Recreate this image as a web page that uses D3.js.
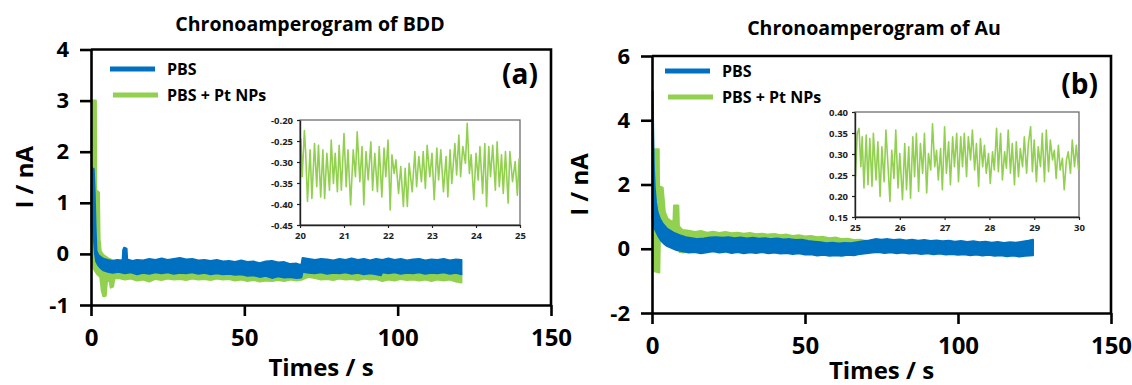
<!DOCTYPE html>
<html>
<head>
<meta charset="utf-8">
<script src="https://cdn.jsdelivr.net/npm/d3@7"></script>
<style>
  body { margin: 0; background: #fff; }
  svg { display: block; font-family: "Open Sans", sans-serif; font-weight: bold; }
</style>
</head>
<body>
<svg id="chart" width="1132" height="385"></svg>
<script>
// ---- data (time in s, current in nA) ----
const series = ['PBS', 'PBS + Pt NPs'];

// (a) BDD electrode: noisy bands given as upper / lower envelopes
const bddPbsTop = [[0.2,1.2],[0.4,1.68],[0.9,1.66],[1.2,1.2],[1.5,0.5],[1.8,0.06],[2.4,-0.02],[3.2,-0.06],[4.2,-0.1],[5.5,-0.12],[7,-0.14],[8.5,-0.12],[10.3,-0.13],[10.5,0.08],[10.8,0.12],[11.6,0.1],[11.8,-0.11],[13.5,-0.14],[15,-0.12],[17,-0.13],[19,-0.1],[21,-0.12],[23,-0.09],[25,-0.12],[27,-0.1],[29,-0.08],[31,-0.11],[33,-0.1],[35,-0.13],[37,-0.12],[39,-0.14],[41,-0.12],[43,-0.15],[45,-0.14],[47,-0.16],[49,-0.13],[51,-0.16],[53,-0.15],[55,-0.18],[57,-0.15],[59,-0.14],[61,-0.17],[63,-0.16],[65,-0.2],[67,-0.19],[68.6,-0.22],[69,-0.08],[71,-0.1],[73,-0.12],[75,-0.1],[77,-0.11],[79,-0.13],[81,-0.1],[83,-0.12],[85,-0.09],[87,-0.12],[89,-0.1],[91,-0.13],[93,-0.1],[95,-0.12],[97,-0.09],[99,-0.12],[101,-0.1],[103,-0.13],[105,-0.11],[107,-0.1],[109,-0.13],[111,-0.11],[113,-0.12],[115,-0.1],[117,-0.13],[119,-0.11],[120.8,-0.12]];
const bddPbsBot = [[0.2,0.5],[0.5,0.55],[0.9,0.3],[1.3,0],[1.7,-0.15],[2.3,-0.22],[3,-0.27],[4,-0.32],[5.5,-0.35],[7,-0.37],[9,-0.35],[11,-0.38],[13,-0.36],[15,-0.4],[17,-0.37],[19,-0.39],[21,-0.36],[23,-0.38],[25,-0.36],[27,-0.39],[29,-0.37],[31,-0.38],[33,-0.36],[35,-0.39],[37,-0.37],[39,-0.4],[41,-0.38],[43,-0.4],[45,-0.39],[47,-0.41],[49,-0.4],[51,-0.43],[53,-0.42],[55,-0.45],[57,-0.43],[59,-0.47],[61,-0.44],[63,-0.46],[65,-0.45],[67,-0.47],[68.6,-0.46],[69,-0.35],[71,-0.37],[73,-0.38],[75,-0.36],[77,-0.39],[79,-0.37],[81,-0.38],[83,-0.36],[85,-0.39],[87,-0.37],[89,-0.4],[91,-0.38],[93,-0.4],[94.5,-0.42],[95,-0.36],[97,-0.38],[99,-0.36],[101,-0.39],[103,-0.37],[105,-0.38],[107,-0.36],[109,-0.39],[111,-0.37],[113,-0.38],[115,-0.36],[117,-0.39],[119,-0.37],[120.8,-0.4]];
const bddPtTop = [[0.2,2.4],[0.5,3.0],[1.6,3.0],[1.7,1.25],[2.6,1.2],[2.8,0.3],[3.2,0.05],[4,-0.02],[6,-0.1],[10,-0.2],[20,-0.3],[40,-0.32],[60,-0.35],[69.5,-0.35],[70,-0.28],[73,-0.28],[74,-0.35],[94,-0.38],[96,-0.36],[120.8,-0.38]];
const bddPtBot = [[0.2,-0.1],[1,-0.3],[2,-0.4],[3,-0.45],[3.5,-0.72],[4,-0.83],[4.8,-0.82],[5.2,-0.55],[6,-0.5],[6.4,-0.66],[7.2,-0.64],[7.6,-0.48],[9,-0.47],[11,-0.5],[13,-0.48],[15,-0.52],[17,-0.5],[19,-0.54],[21,-0.49],[23,-0.51],[25,-0.48],[27,-0.5],[29,-0.49],[31,-0.51],[33,-0.48],[35,-0.5],[37,-0.49],[39,-0.51],[41,-0.48],[43,-0.5],[45,-0.49],[47,-0.52],[49,-0.5],[51,-0.53],[53,-0.51],[55,-0.54],[57,-0.52],[59,-0.53],[61,-0.51],[63,-0.53],[65,-0.5],[67,-0.52],[69,-0.5],[71,-0.45],[73,-0.47],[75,-0.5],[77,-0.49],[79,-0.51],[81,-0.48],[83,-0.5],[85,-0.49],[87,-0.51],[89,-0.48],[91,-0.5],[93,-0.49],[95,-0.53],[97,-0.5],[99,-0.52],[101,-0.49],[103,-0.51],[105,-0.5],[107,-0.52],[109,-0.5],[111,-0.53],[113,-0.5],[115,-0.52],[117,-0.5],[119,-0.54],[120.8,-0.56]];

// (a) inset, PBS + Pt NPs between 20 and 25 s
const bddInsetT = [20.02,20.05,20.10,20.13,20.17,20.23,20.27,20.33,20.38,20.42,
  20.47,20.52,20.56,20.61,20.67,20.71,20.76,20.80,20.85,20.89,
  20.94,21.00,21.05,21.09,21.15,21.21,21.26,21.30,21.36,21.41,
  21.45,21.50,21.55,21.61,21.65,21.70,21.76,21.80,21.86,21.91,
  21.95,22.00,22.05,22.09,22.14,22.18,22.24,22.29,22.35,22.39,
  22.44,22.48,22.55,22.61,22.65,22.70,22.76,22.80,22.85,22.89,
  22.95,23.00,23.05,23.11,23.15,23.20,23.26,23.32,23.36,23.41,
  23.45,23.52,23.56,23.61,23.65,23.70,23.76,23.80,23.85,23.89,
  23.95,24.00,24.05,24.09,24.15,24.20,24.24,24.29,24.33,24.38,
  24.44,24.48,24.53,24.58,24.62,24.67,24.73,24.77,24.83,24.89,
  24.94,24.98];
const bddInsetI = [-0.244,-0.335,-0.225,-0.279,-0.394,-0.271,-0.387,-0.256,-0.359,-0.260,
  -0.383,-0.271,-0.387,-0.279,-0.367,-0.248,-0.351,-0.279,-0.371,-0.260,
  -0.367,-0.232,-0.359,-0.271,-0.402,-0.271,-0.335,-0.228,-0.347,-0.263,
  -0.402,-0.275,-0.343,-0.252,-0.367,-0.279,-0.371,-0.263,-0.383,-0.267,
  -0.335,-0.248,-0.414,-0.283,-0.327,-0.295,-0.375,-0.311,-0.406,-0.315,
  -0.406,-0.303,-0.371,-0.275,-0.359,-0.287,-0.347,-0.275,-0.363,-0.260,
  -0.335,-0.279,-0.390,-0.267,-0.343,-0.271,-0.371,-0.287,-0.383,-0.271,
  -0.351,-0.256,-0.331,-0.236,-0.335,-0.263,-0.303,-0.208,-0.327,-0.283,
  -0.390,-0.279,-0.343,-0.263,-0.375,-0.256,-0.406,-0.263,-0.335,-0.260,
  -0.367,-0.252,-0.359,-0.283,-0.375,-0.275,-0.398,-0.275,-0.347,-0.299,
  -0.379,-0.291];

// (b) Au electrode
const auPbsTop = [[0.2,4.9],[0.4,3.6],[0.6,2.6],[0.9,1.9],[1.3,1.45],[1.8,1.15],[2.5,0.95],[3.5,0.78],[5,0.62],[7,0.5],[9,0.42],[11,0.36],[13,0.33],[15,0.3],[17,0.32],[19,0.35],[21,0.36],[23,0.34],[25,0.36],[27,0.33],[29,0.35],[31,0.32],[33,0.34],[35,0.31],[37,0.33],[39,0.3],[41,0.32],[43,0.29],[45,0.3],[47,0.27],[49,0.28],[51,0.24],[53,0.22],[55,0.2],[57,0.17],[59,0.19],[61,0.16],[63,0.18],[65,0.17],[67,0.2],[69,0.23],[71,0.26],[73,0.3],[75,0.28],[77,0.3],[79,0.27],[81,0.29],[83,0.26],[85,0.28],[87,0.25],[89,0.27],[91,0.24],[93,0.26],[95,0.23],[97,0.25],[99,0.22],[101,0.24],[103,0.21],[105,0.23],[107,0.2],[109,0.22],[111,0.19],[113,0.21],[115,0.18],[117,0.2],[119,0.19],[121,0.22],[123,0.25],[124.5,0.28]];
const auPbsBot = [[0.2,0.9],[0.6,0.75],[1,0.6],[1.5,0.5],[2,0.4],[3,0.25],[4,0.15],[5,0.08],[6.5,0.02],[8,-0.04],[10,-0.08],[12,-0.12],[14,-0.1],[16,-0.14],[18,-0.11],[20,-0.08],[22,-0.12],[24,-0.09],[26,-0.13],[28,-0.1],[30,-0.14],[32,-0.11],[34,-0.13],[36,-0.1],[38,-0.14],[40,-0.12],[42,-0.15],[44,-0.13],[46,-0.16],[48,-0.14],[50,-0.18],[52,-0.17],[54,-0.21],[56,-0.19],[58,-0.22],[60,-0.2],[62,-0.22],[64,-0.19],[66,-0.2],[68,-0.16],[70,-0.14],[72,-0.12],[74,-0.1],[76,-0.13],[78,-0.11],[80,-0.14],[82,-0.12],[84,-0.15],[86,-0.13],[88,-0.16],[90,-0.14],[92,-0.17],[94,-0.15],[96,-0.18],[98,-0.16],[100,-0.19],[102,-0.17],[104,-0.2],[106,-0.18],[108,-0.21],[110,-0.19],[112,-0.22],[114,-0.2],[116,-0.23],[118,-0.21],[120,-0.24],[122,-0.22],[124.5,-0.2]];
const auPtTop = [[0.4,2.6],[0.7,3.1],[2.2,3.1],[2.3,1.95],[3.5,1.9],[4.2,1.15],[5,0.95],[6,0.88],[7,0.82],[7.2,1.35],[8.6,1.35],[8.8,0.7],[10,0.58],[12,0.56],[14,0.52],[16,0.55],[18,0.5],[20,0.53],[22,0.49],[24,0.52],[26,0.48],[28,0.5],[30,0.47],[32,0.49],[34,0.45],[36,0.47],[38,0.44],[40,0.46],[42,0.42],[44,0.44],[46,0.4],[48,0.42],[50,0.38],[52,0.4],[54,0.36],[56,0.37],[58,0.33],[60,0.35],[62,0.3],[64,0.31],[66,0.27],[68,0.28],[70,0.24],[71.5,0.2]];
const auPtBot = [[0.4,0.6],[0.8,-0.7],[2.4,-0.74],[2.6,0.4],[4,0.3],[6,0.22],[8.8,0.15],[9,-0.1],[10.4,-0.12],[10.6,0.1],[20,0.1],[40,0.08],[60,0.05],[71.5,0.05]];

// (b) inset, PBS + Pt NPs between 25 and 30 s
const auInsetT = [25.01,25.05,25.09,25.13,25.16,25.20,25.25,25.29,25.33,25.38,
  25.41,25.47,25.51,25.56,25.60,25.65,25.69,25.74,25.78,25.82,
  25.87,25.91,25.96,26.00,26.06,26.11,26.15,26.20,26.24,26.29,
  26.33,26.37,26.42,26.46,26.51,26.55,26.60,26.64,26.69,26.73,
  26.78,26.82,26.86,26.91,26.95,27.00,27.04,27.09,27.13,27.18,
  27.22,27.27,27.31,27.36,27.40,27.44,27.49,27.53,27.58,27.62,
  27.67,27.71,27.76,27.80,27.85,27.89,27.93,27.98,28.02,28.07,
  28.11,28.16,28.20,28.25,28.29,28.34,28.38,28.42,28.47,28.51,
  28.56,28.60,28.65,28.69,28.74,28.78,28.83,28.87,28.92,28.96,
  29.00,29.05,29.09,29.14,29.18,29.23,29.27,29.32,29.36,29.41,
  29.45,29.49,29.54,29.58,29.63,29.67,29.72,29.76,29.81,29.85,
  29.90,29.94,29.99];
const auInsetI = [0.246,0.349,0.361,0.270,0.341,0.219,0.345,0.227,0.337,0.223,
  0.349,0.238,0.329,0.199,0.317,0.234,0.357,0.266,0.187,0.309,
  0.242,0.357,0.219,0.301,0.191,0.325,0.215,0.317,0.195,0.341,
  0.246,0.349,0.211,0.325,0.254,0.349,0.207,0.301,0.262,0.372,
  0.270,0.309,0.238,0.313,0.215,0.365,0.254,0.329,0.227,0.341,
  0.270,0.349,0.234,0.341,0.270,0.349,0.246,0.341,0.286,0.357,
  0.262,0.325,0.223,0.337,0.270,0.321,0.254,0.301,0.230,0.305,
  0.262,0.361,0.258,0.349,0.238,0.305,0.266,0.357,0.254,0.325,
  0.227,0.329,0.246,0.313,0.270,0.341,0.254,0.325,0.365,0.258,
  0.333,0.234,0.317,0.270,0.349,0.234,0.357,0.258,0.333,0.286,
  0.309,0.242,0.321,0.262,0.290,0.215,0.286,0.305,0.254,0.333,
  0.270,0.321,0.262];

// axis ticks
const timeTicks = [0, 50, 100, 150];
const bddTicks = [-1, 0, 1, 2, 3, 4];
const auTicks = [-2, 0, 2, 4, 6];
const bddInsetXTicks = [20, 21, 22, 23, 24, 25];
const bddInsetYTicks = [-0.45, -0.40, -0.35, -0.30, -0.25, -0.20];
const auInsetXTicks = [25, 26, 27, 28, 29, 30];
const auInsetYTicks = [0.15, 0.20, 0.25, 0.30, 0.35, 0.40];

const BLUE = '#0070c0';
const GREEN = '#92d050';

const svg = d3.select('#chart');

// filled band between an upper and a lower envelope
function band(g, x, y, top, bot, color) {
  const pts = top.concat(bot.slice().reverse());
  g.append('path')
    .attr('d', d3.line().x(d => x(d[0])).y(d => y(d[1]))(pts) + 'Z')
    .attr('fill', color)
    .attr('stroke', color)
    .attr('stroke-width', 2)
    .attr('stroke-linejoin', 'round');
}

function drawInset(g, box, xTicks, yTicks, times, vals) {
  const x = d3.scaleLinear().domain(d3.extent(xTicks)).range([box.x0, box.x1]);
  const y = d3.scaleLinear().domain(d3.extent(yTicks)).range([box.y1, box.y0]);

  g.append('rect')
    .attr('x', box.x0).attr('y', box.y0)
    .attr('width', box.x1 - box.x0).attr('height', box.y1 - box.y0)
    .attr('fill', '#fff').attr('stroke', '#6e6e6e').attr('stroke-width', 1.3);

  g.append('path')
    .datum(d3.zip(times, vals))
    .attr('d', d3.line().x(d => x(d[0])).y(d => y(d[1])))
    .attr('fill', 'none')
    .attr('stroke', GREEN)
    .attr('stroke-width', 1.6)
    .attr('stroke-linejoin', 'round');

  const ax = g.append('g')
    .attr('transform', `translate(0,${box.y1})`)
    .call(d3.axisBottom(x).tickValues(xTicks).tickFormat(d => String(d)).tickSize(3).tickSizeOuter(0).tickPadding(4));
  const ay = g.append('g')
    .attr('transform', `translate(${box.x0},0)`)
    .call(d3.axisLeft(y).tickValues(yTicks).tickFormat(d => d.toFixed(2)).tickSize(3).tickSizeOuter(0).tickPadding(4));
  [ax, ay].forEach(a => {
    a.select('.domain').attr('stroke', '#222').attr('stroke-width', 1.4);
    a.selectAll('.tick line').attr('stroke', '#222').attr('stroke-width', 1.2);
    a.selectAll('.tick text')
      .attr('fill', '#222')
      .style('font-family', '"Open Sans", sans-serif')
      .style('font-weight', 'bold')
      .style('font-size', '9.5px');
  });
}

function drawPanel(p) {
  const g = svg.append('g');
  const x = d3.scaleLinear().domain([0, 150]).range([p.left, p.right]);
  const y = d3.scaleLinear().domain(d3.extent(p.yTicks)).range([p.bottom, p.top]);

  // data bands: Pt NPs first, PBS on top
  band(g, x, y, p.ptTop, p.ptBot, GREEN);
  band(g, x, y, p.pbsTop, p.pbsBot, BLUE);

  // frame
  g.append('path')
    .attr('d', `M${p.left},${p.top}H${p.right}V${p.bottom}`)
    .attr('fill', 'none').attr('stroke', '#000').attr('stroke-width', 2.6);

  const ax = g.append('g')
    .attr('transform', `translate(0,${p.bottom})`)
    .call(d3.axisBottom(x).tickValues(timeTicks).tickFormat(d => String(d)).tickSize(11).tickSizeOuter(0).tickPadding(p.xPad));
  const ay = g.append('g')
    .attr('transform', `translate(${p.left},0)`)
    .call(d3.axisLeft(y).tickValues(p.yTicks).tickFormat(d => String(d)).tickSize(11).tickSizeOuter(0).tickPadding(11));
  [ax, ay].forEach(a => {
    a.select('.domain').attr('stroke', '#000').attr('stroke-width', 2.6);
    a.selectAll('.tick line').attr('stroke', '#000').attr('stroke-width', 2.6);
    a.selectAll('.tick text')
      .attr('fill', '#000')
      .style('font-family', '"Open Sans", sans-serif')
      .style('font-weight', 'bold');
  });
  ax.selectAll('.tick text').style('font-size', '24px');
  ay.selectAll('.tick text').style('font-size', '22px');

  // titles
  g.append('text')
    .attr('x', p.titleX).attr('y', p.titleY)
    .attr('text-anchor', 'middle')
    .style('font-size', '19.5px')
    .text(p.title);
  g.append('text')
    .attr('x', (p.left + p.right) / 2).attr('y', p.xLabelY)
    .attr('text-anchor', 'middle')
    .style('font-size', '24px')
    .text('Times / s');
  g.append('text')
    .attr('transform', `translate(${p.yLabelX},${(p.top + p.bottom) / 2}) rotate(-90)`)
    .attr('text-anchor', 'middle')
    .style('font-size', '24px')
    .text('I / nA');
  g.append('text')
    .attr('x', p.tagX).attr('y', p.tagY)
    .attr('text-anchor', 'end')
    .style('font-size', '28px')
    .text(p.tag);

  // legend
  const leg = g.append('g').attr('transform', `translate(${p.legX},${p.legY})`);
  series.forEach((name, i) => {
    const row = leg.append('g').attr('transform', `translate(${i * 3},${i * 26})`);
    row.append('line')
      .attr('x1', 0).attr('x2', 45).attr('y1', 0).attr('y2', 0)
      .attr('stroke', i === 0 ? BLUE : GREEN).attr('stroke-width', 5);
    row.append('text')
      .attr('x', 57 - i * 3).attr('y', 0).attr('dy', '0.35em')
      .style('font-size', '16px')
      .text(name);
  });

  drawInset(g, p.inset, p.insetX, p.insetY, p.insetT, p.insetI);
}

drawPanel({
  left: 91, right: 551, top: 49.5, bottom: 305,
  yTicks: bddTicks, xPad: 13,
  pbsTop: bddPbsTop, pbsBot: bddPbsBot, ptTop: bddPtTop, ptBot: bddPtBot,
  title: 'Chronoamperogram of BDD', titleX: 310, titleY: 31,
  xLabelY: 376, yLabelX: 33,
  tag: '(a)', tagX: 538, tagY: 84,
  legX: 110, legY: 69,
  inset: { x0: 300, x1: 520, y0: 120, y1: 225 },
  insetX: bddInsetXTicks, insetY: bddInsetYTicks, insetT: bddInsetT, insetI: bddInsetI
});

drawPanel({
  left: 652, right: 1111, top: 56, bottom: 313,
  yTicks: auTicks, xPad: 13,
  pbsTop: auPbsTop, pbsBot: auPbsBot, ptTop: auPtTop, ptBot: auPtBot,
  title: 'Chronoamperogram of Au', titleX: 874, titleY: 35,
  xLabelY: 379, yLabelX: 588,
  tag: '(b)', tagX: 1098, tagY: 94,
  legX: 665, legY: 71,
  inset: { x0: 855, x1: 1079, y0: 112, y1: 217 },
  insetX: auInsetXTicks, insetY: auInsetYTicks, insetT: auInsetT, insetI: auInsetI
});
</script>
</body>
</html>
